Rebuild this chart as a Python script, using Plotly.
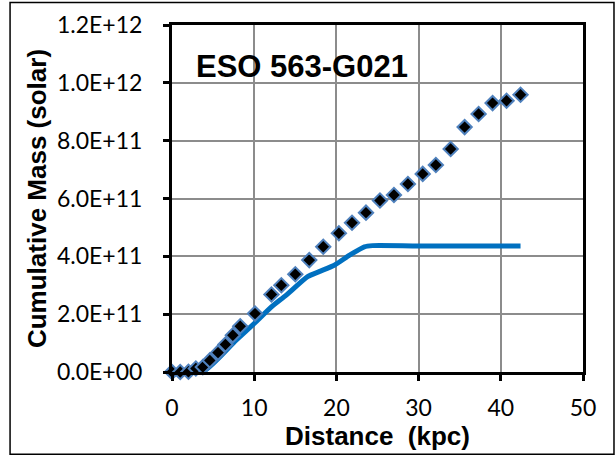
import plotly.graph_objects as go

# Observed cumulative mass (markers)
dist_obs = [0.0, 1.0, 2.0, 2.9, 3.75, 4.6, 5.6, 6.5, 7.4, 8.3, 10.1, 12.1, 13.3, 15.0,
            16.7, 18.4, 20.3, 21.9, 23.6, 25.3, 27.0, 28.7, 30.5, 32.1, 33.9, 35.6,
            37.3, 39.0, 40.7, 42.4]
mass_obs = [0.0, 0.0, 0.01e11, 0.12e11, 0.17e11, 0.40e11, 0.67e11, 0.95e11, 1.27e11,
            1.58e11, 2.02e11, 2.68e11, 3.00e11, 3.38e11, 3.87e11, 4.33e11, 4.80e11,
            5.16e11, 5.51e11, 5.93e11, 6.12e11, 6.50e11, 6.85e11, 7.16e11, 7.71e11,
            8.47e11, 8.92e11, 9.30e11, 9.38e11, 9.59e11]

# Baryonic/visible mass curve (line)
dist_line = [0.0, 3.75, 7.8, 10.2, 12.1, 13.9, 16.5, 17.9, 19.8, 21.6, 23.4, 24.4, 30.0, 42.4]
mass_line = [0.0, 0.01e11, 1.10e11, 1.73e11, 2.25e11, 2.66e11, 3.30e11, 3.47e11,
             3.70e11, 4.04e11, 4.33e11, 4.37e11, 4.36e11, 4.36e11]

y_tickvals = [0, 2e11, 4e11, 6e11, 8e11, 1e12, 1.2e12]
y_ticktext = ["0.0E+00", "2.0E+11", "4.0E+11", "6.0E+11", "8.0E+11", "1.0E+12", "1.2E+12"]
x_tickvals = [0, 10, 20, 30, 40, 50]

title_text = "ESO 563-G021"
x_title = "Distance  (kpc)"
y_title = "Cumulative Mass (solar)"

fig = go.Figure()
fig.add_trace(go.Scatter(
    x=dist_line, y=mass_line, mode="lines",
    line=dict(color="#0070C0", width=5, shape="spline", smoothing=0.6),
    showlegend=False, hoverinfo="skip"))
fig.add_trace(go.Scatter(
    x=dist_obs, y=mass_obs, mode="markers",
    marker=dict(symbol="diamond", size=11, color="black",
                line=dict(color="#4F81BD", width=2)),
    showlegend=False, cliponaxis=False))

tick_font = dict(family="Lato, Carlito, Liberation Sans, sans-serif", size=23, color="black")
title_font = dict(family="Liberation Sans, Arial, sans-serif", size=26, color="black", weight="bold")

fig.update_layout(
    width=616, height=456,
    margin=dict(l=172, r=33, t=25, b=84, autoexpand=False),
    paper_bgcolor="white", plot_bgcolor="white",
    xaxis=dict(range=[0, 50], tickvals=x_tickvals, ticktext=[str(v) for v in x_tickvals],
               showgrid=True, gridcolor="#8c8c8c", gridwidth=1.5,
               showline=True, linecolor="black", linewidth=3, mirror=True,
               ticks="outside", ticklen=6, tickwidth=3, tickcolor="black",
               tickfont=tick_font, zeroline=False, ticklabelstandoff=7,
               automargin=False,
               title=dict(text=x_title, font=title_font, standoff=4)),
    yaxis=dict(range=[0, 1.2e12], tickvals=y_tickvals, ticktext=y_ticktext,
               showgrid=True, gridcolor="#8c8c8c", gridwidth=1.5,
               showline=True, linecolor="black", linewidth=3, mirror=True,
               ticks="outside", ticklen=6, tickwidth=3, tickcolor="black",
               tickfont=tick_font, zeroline=False, ticklabelstandoff=16,
               automargin=False,
               title=dict(text=y_title, font=title_font, standoff=3)),
    annotations=[dict(x=15.8, y=1.056e12, xref="x", yref="y", text=title_text,
                      showarrow=False, xanchor="center", yanchor="middle",
                      font=dict(family="Liberation Sans, Arial, sans-serif", size=31,
                                color="black", weight="bold"))],
    shapes=[dict(type="rect", xref="paper", yref="paper",
                 x0=-0.394, x1=1.0754, y0=-0.2367, y1=1.065,
                 line=dict(color="black", width=1.5), layer="below")],
)

fig.write_html("out.html", config={"displayModeBar": False},
               post_script="document.body.style.margin='0';")
